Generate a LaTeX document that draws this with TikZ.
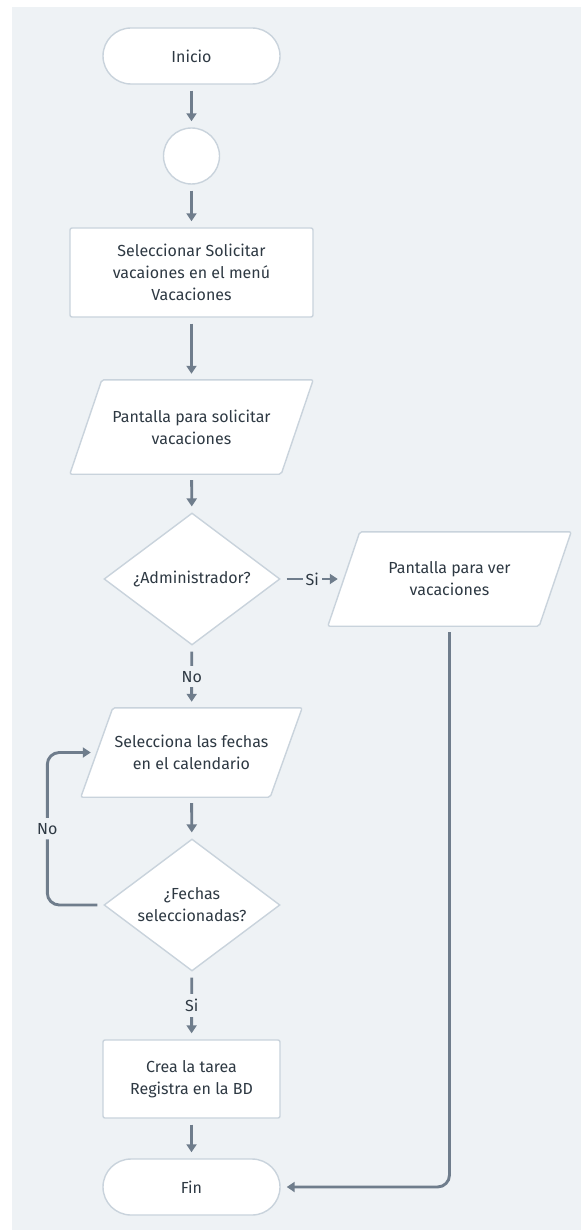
\documentclass[tikz,border=0pt]{standalone}
\usepackage{fontspec}
\setmainfont{Fira Sans}
\usetikzlibrary{shapes.geometric,arrows.meta,backgrounds}
\definecolor{canvas}{HTML}{EEF2F5}
\definecolor{edge}{HTML}{C9D3DC}
\definecolor{wire}{HTML}{6F7D8C}
\definecolor{ink}{HTML}{2E3943}

\begin{document}
\begin{tikzpicture}[x=1pt,y=-1pt,
  font=\fontsize{16}{22}\selectfont, text=ink,
  base/.style={draw=edge, line width=1.4pt, fill=white, align=center, inner sep=0pt},
  terminal/.style={base, rectangle, rounded corners=28pt, minimum width=177pt, minimum height=56pt},
  connector/.style={base, circle, minimum size=56pt},
  process/.style={base, rectangle, rounded corners=2pt},
  io/.style={align=center, inner sep=0pt, minimum width=211pt, minimum height=94pt},
  decision/.style={base, diamond, minimum width=176pt, minimum height=132pt, aspect=1.33},
  arr/.style={draw=wire, line width=2.9pt, shorten <=6pt, shorten >=6pt, -{Triangle[width=10pt,length=8pt]}},
  lbl/.style={fill=canvas, text=ink, inner xsep=3pt, inner ysep=5pt}
]
\useasboundingbox (0,0) rectangle (581,1230);

% flowchart steps
\node[terminal] (start) at (191.5,56) {Inicio};
\node[connector] (conn) at (191.5,156) {};
\node[process, minimum width=243pt, minimum height=89pt] (select) at (191.5,272.5)
  {Seleccionar Solicitar\\vacaiones en el menú\\Vacaciones};
\node[io] (screen) at (191.5,427) {Pantalla para solicitar\\vacaciones};
\node[decision] (admin) at (192,579) {¿Administrador?};
\node[io] (view) at (449.5,579) {Pantalla para ver\\vacaciones};
\node[io, minimum width=189pt, minimum height=89pt] (dates) at (191.5,752.5)
  {Selecciona las fechas\\en el calendario};
\node[decision] (chosen) at (192,905) {¿Fechas\\seleccionadas?};
\node[process, minimum width=177pt, minimum height=78pt] (save) at (191.5,1079)
  {Crea la tarea\\Registra en la BD};
\node[terminal] (end) at (191.5,1187) {Fin};

% canvas and slanted input/output boxes
\begin{scope}[on background layer]
  \fill[canvas] (12,7) rectangle (581,1230);
  \foreach \n in {screen,view,dates}
    \filldraw[fill=white, draw=edge, line width=1.4pt, rounded corners=2pt]
      ([xshift=-16pt]\n.south west) -- ([xshift=-16pt]\n.south east)
      -- ([xshift=16pt]\n.north east) -- ([xshift=16pt]\n.north west) -- cycle;
\end{scope}

% connectors
\draw[arr] (start) -- (conn);
\draw[arr] (conn) -- (select);
\draw[arr] (select) -- (screen);
\draw[arr] (screen) -- (admin);
\draw[arr] (admin) -- node[lbl] {Si} (view);
\draw[arr] (admin) -- node[lbl] {No} (dates);
\draw[arr] (dates) -- (chosen);
\draw[arr] (chosen) -- node[lbl] {Si} (save);
\draw[arr] (save) -- (end);
\draw[arr, rounded corners=12pt] (chosen.west) -- ([xshift=-56pt]chosen.west)
  |- node[lbl, pos=0.25] {No} (dates.west);
\draw[arr, rounded corners=12pt] (view.south) |- (end.east);
\end{tikzpicture}
\end{document}
